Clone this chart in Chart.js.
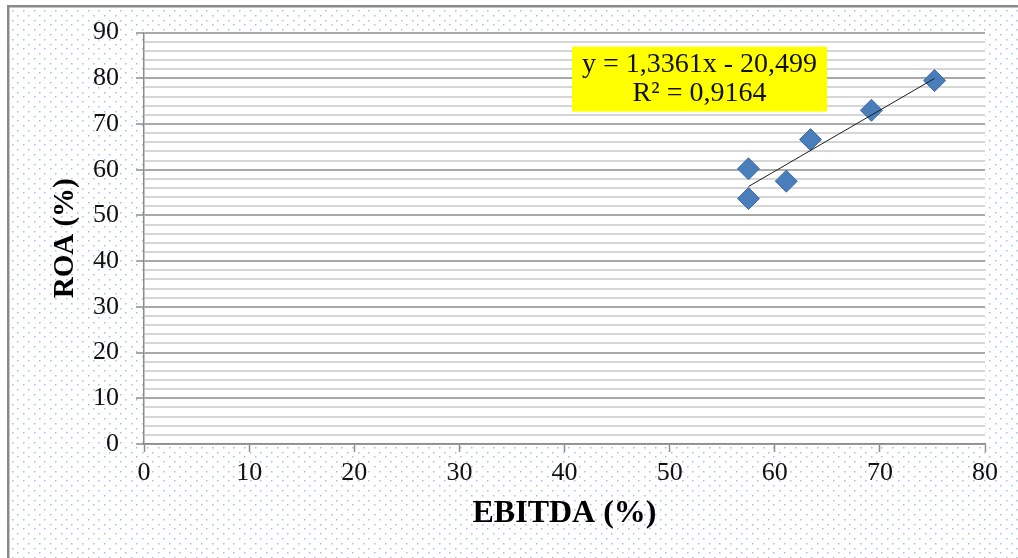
<!DOCTYPE html>
<html>
<head>
<meta charset="utf-8">
<script src="https://cdn.jsdelivr.net/npm/chart.js@4/dist/chart.umd.min.js"></script>
<style>
  html, body { margin: 0; padding: 0; background: #fff; }
  #wrap { width: 1018px; height: 558px; }
</style>
</head>
<body>
<div id="wrap"><canvas id="myChart" width="1018" height="558"></canvas></div>
<script>
// EBITDA vs ROA, one point per observation
const ebitda = [57.5, 57.5, 61.1, 63.4, 69.2, 75.2];
const roa    = [60.2, 53.7, 57.5, 66.6, 73.0, 79.5];

// linear trend (as given by the equation label)
const slope = 1.3361;
const intercept = -20.499;
const rSquared = 0.9164;

const xTickLabels = [0, 10, 20, 30, 40, 50, 60, 70, 80];
const yTickLabels = [0, 10, 20, 30, 40, 50, 60, 70, 80, 90];

const serif = "'Liberation Serif', 'Times New Roman', serif";
const comma = n => String(Math.abs(n)).replace('.', ',');

const xMin = Math.min(...ebitda);
const xMax = Math.max(...ebitda);
const trend = [
  { x: xMin, y: slope * xMin + intercept },
  { x: xMax, y: slope * xMax + intercept }
];

const points = ebitda.map((x, i) => ({ x: x, y: roa[i] }));

// dotted background, white plot area, frame lines
const backdrop = {
  id: 'backdrop',
  beforeDraw(chart) {
    const { ctx, width, height, chartArea: a } = chart;
    ctx.save();
    ctx.fillStyle = '#fff';
    ctx.fillRect(0, 0, width, height);
    ctx.fillStyle = 'rgba(90,140,215,0.55)';
    let row = 0;
    for (let y = 10; y < height; y += 4.8, row++) {
      const off = row % 2 ? 5.4 : 0;
      for (let x = 12 + off; x < width; x += 10.8) {
        ctx.fillRect(Math.round(x), Math.round(y), 1.5, 1.5);
      }
    }
    ctx.fillStyle = '#fff';
    ctx.fillRect(a.left, a.top, a.right - a.left, a.bottom - a.top);
    ctx.fillStyle = '#8a8a8a';
    ctx.fillRect(7, 5, width - 7, 2.5);
    ctx.fillRect(7, 5, 2.5, height - 5);
    ctx.restore();
  }
};

// yellow trendline label
const equationBox = {
  id: 'equationBox',
  afterDraw(chart) {
    const { ctx, chartArea: a } = chart;
    const left = a.left + 428, top = a.top + 14, w = 255, h = 65;
    ctx.save();
    ctx.fillStyle = '#ffff00';
    ctx.fillRect(left, top, w, h);
    ctx.fillStyle = '#111';
    ctx.font = '28px ' + serif;
    ctx.textAlign = 'center';
    ctx.textBaseline = 'middle';
    const sign = intercept < 0 ? ' - ' : ' + ';
    ctx.fillText('y = ' + comma(slope) + 'x' + sign + comma(intercept), left + w / 2, top + 18);
    ctx.fillText('R² = ' + comma(rSquared), left + w / 2, top + 47);
    ctx.restore();
  }
};

const axisGrey = '#8c8c8c';

new Chart(document.getElementById('myChart'), {
  type: 'scatter',
  data: {
    datasets: [
      {
        type: 'line',
        data: trend,
        borderColor: '#1e1e1e',
        borderWidth: 1,
        pointRadius: 0,
        fill: false,
        order: 0
      },
      {
        data: points,
        pointStyle: 'rectRot',
        pointRadius: 11,
        backgroundColor: '#4a7ebb',
        borderColor: '#3d6ca6',
        borderWidth: 1,
        order: 1
      }
    ]
  },
  options: {
    responsive: false,
    animation: false,
    devicePixelRatio: 1,
    layout: { padding: { left: 0, top: 32, right: 33, bottom: 0 } },
    plugins: {
      legend: { display: false },
      tooltip: { enabled: false }
    },
    scales: {
      x: {
        type: 'linear',
        min: 0,
        max: 80,
        afterBuildTicks: s => { s.ticks = xTickLabels.map(v => ({ value: v })); },
        afterFit: s => { s.height = 114; },
        ticks: {
          color: '#111',
          font: { family: serif, size: 26 },
          padding: 6
        },
        grid: {
          drawOnChartArea: false,
          drawTicks: true,
          tickLength: 8,
          tickColor: axisGrey,
          tickWidth: 1.5
        },
        border: { color: axisGrey, width: 1.5 },
        title: {
          display: true,
          text: 'EBITDA (%)',
          color: '#000',
          font: { family: serif, size: 32, weight: 'bold' },
          padding: { top: 0, bottom: 25 }
        }
      },
      y: {
        type: 'linear',
        min: 0,
        max: 90,
        afterFit: s => { s.width = 144; },
        ticks: {
          stepSize: 2,
          autoSkip: false,
          color: '#111',
          font: { family: serif, size: 26 },
          padding: 17,
          callback: v => yTickLabels.includes(v) ? v : ''
        },
        grid: {
          color: c => c.tick && c.tick.value % 10 === 0 ? '#a9a9a9' : '#d6d6d6',
          lineWidth: 2,
          tickLength: 8,
          tickWidth: 1.5,
          tickColor: c => c.tick && c.tick.value % 10 === 0 ? axisGrey : 'rgba(0,0,0,0)'
        },
        border: { color: axisGrey, width: 1.5 },
        title: {
          display: true,
          text: 'ROA (%)',
          color: '#000',
          font: { family: serif, size: 29, weight: 'bold' },
          padding: { top: 48, bottom: 0 }
        }
      }
    }
  },
  plugins: [backdrop, equationBox]
});
</script>
</body>
</html>
